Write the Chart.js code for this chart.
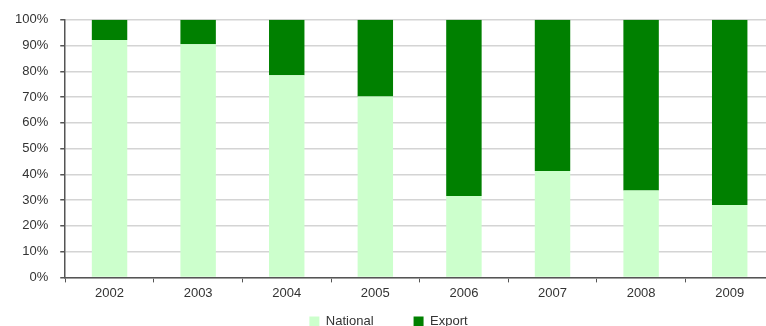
<!DOCTYPE html>
<html>
<head>
<meta charset="utf-8">
<script src="https://cdn.jsdelivr.net/npm/chart.js@4/dist/chart.umd.min.js"></script>
<style>
  html, body { margin: 0; padding: 0; background: #ffffff; overflow: hidden; width: 766px; height: 326px; }
  #wrap { width: 774px; height: 326px; }
  canvas { display: block; }
</style>
</head>
<body>
<div id="wrap"><canvas id="chart" width="774" height="326"></canvas></div>
<script>
// Share of production by destination, in percent
const years = ['2002', '2003', '2004', '2005', '2006', '2007', '2008', '2009'];
const nationalShare = [92.2, 90.5, 78.5, 70.2, 31.6, 41.3, 33.7, 28.1];
const exportShare = [7.8, 9.5, 21.5, 29.8, 68.4, 58.7, 66.3, 71.9];
const yTickLabels = ['0%', '10%', '20%', '30%', '40%', '50%', '60%', '70%', '80%', '90%', '100%'];

const axisColor = '#555555';
const gridColor = '#d4d4d4';
const textColor = '#333333';

// Legend sizing: keep wide spacing between the two entries while the
// legend itself only reserves a thin strip at the bottom of the canvas.
const legendReserved = 22;
const legendLift = 29;

const compactLegend = {
  id: 'compactLegend',
  beforeInit(chart) {
    const legend = chart.legend;
    if (!legend) return;
    const fit = legend.fit;
    legend.fit = function () {
      fit.call(this);
      this.height = legendReserved;
    };
  },
  afterLayout(chart) {
    const legend = chart.legend;
    if (!legend) return;
    legend.top -= legendLift;
    legend.bottom = chart.height;
  }
};

Chart.defaults.font.family = '"Liberation Sans", Arial, sans-serif';
Chart.defaults.font.size = 13;
Chart.defaults.color = textColor;

new Chart(document.getElementById('chart'), {
  type: 'bar',
  data: {
    labels: years,
    datasets: [
      {
        label: 'National',
        data: nationalShare,
        backgroundColor: '#ccffcc',
        borderWidth: 0,
        categoryPercentage: 1,
        barPercentage: 0.4
      },
      {
        label: 'Export',
        data: exportShare,
        backgroundColor: '#008000',
        borderWidth: 0,
        categoryPercentage: 1,
        barPercentage: 0.4
      }
    ]
  },
  plugins: [compactLegend],
  options: {
    responsive: false,
    animation: false,
    layout: { padding: { left: 3, top: 16, right: 0, bottom: 0 } },
    plugins: {
      tooltip: { enabled: false },
      legend: {
        position: 'bottom',
        labels: {
          boxWidth: 10,
          boxHeight: 10,
          padding: 40,
          color: textColor,
          font: { size: 13 }
        }
      }
    },
    scales: {
      x: {
        stacked: true,
        offset: true,
        grid: {
          offset: true,
          drawOnChartArea: false,
          drawTicks: true,
          tickLength: 5,
          tickColor: axisColor
        },
        border: { display: true, color: axisColor, width: 1.5 },
        ticks: { padding: 3, color: textColor }
      },
      y: {
        stacked: true,
        min: 0,
        max: 100,
        grid: {
          color: gridColor,
          lineWidth: 1.5,
          drawTicks: true,
          tickLength: 5,
          tickColor: axisColor
        },
        border: { display: true, color: axisColor, width: 1.5 },
        ticks: {
          stepSize: 10,
          padding: 12,
          color: textColor,
          callback: (value) => yTickLabels[Math.round(value / 10)]
        }
      }
    }
  }
});
</script>
</body>
</html>
